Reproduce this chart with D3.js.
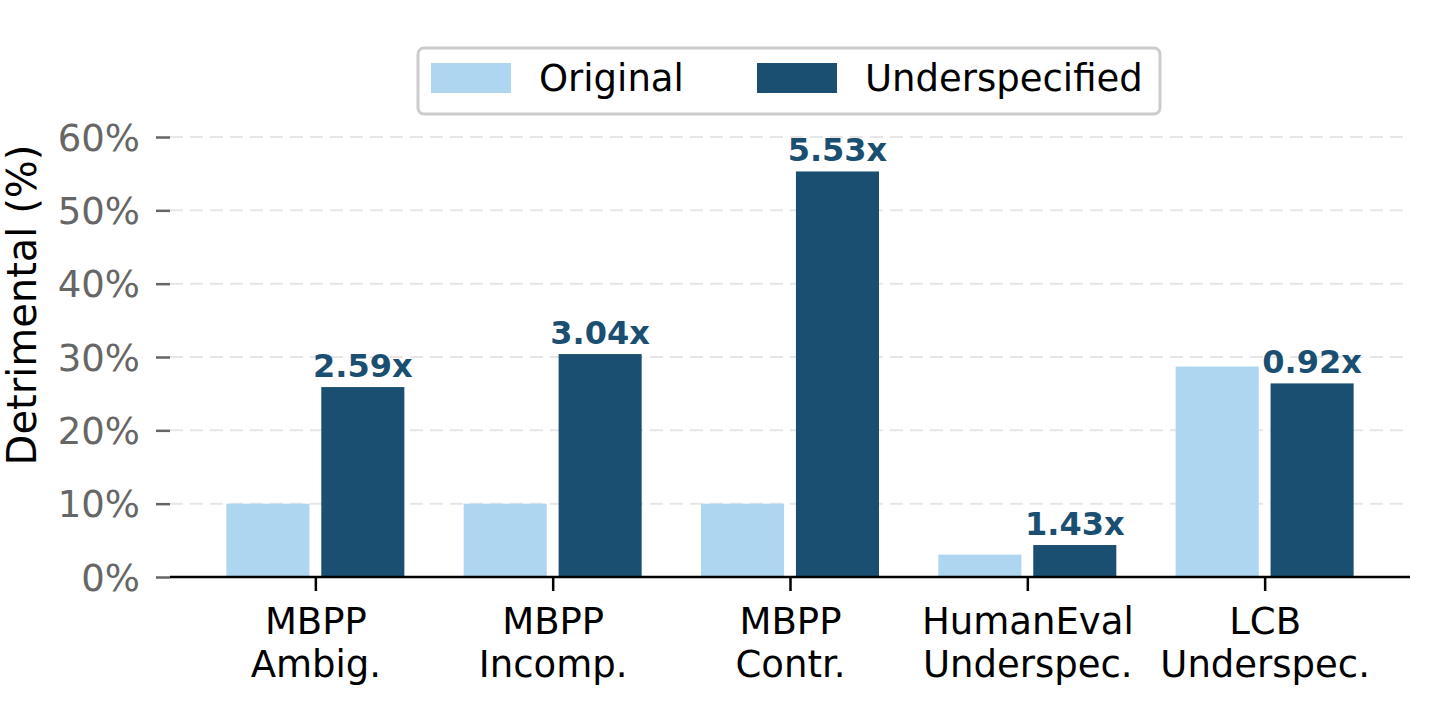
<!DOCTYPE html>
<html>
<head>
<meta charset="utf-8">
<script src="https://cdn.jsdelivr.net/npm/d3@7"></script>
<style>
  html, body { margin: 0; padding: 0; background: #fff; }
  svg { display: block; font-family: "DejaVu Sans", sans-serif; }
</style>
</head>
<body>
<svg id="chart" width="1438" height="714"></svg>
<script>
const categories = [["MBPP", "Ambig."], ["MBPP", "Incomp."], ["MBPP", "Contr."], ["HumanEval", "Underspec."], ["LCB", "Underspec."]];
const originalValues = [10.0, 10.0, 10.0, 3.05, 28.7];
const underspecifiedValues = [25.9, 30.4, 55.3, 4.36, 26.4];
const ratioLabels = ["2.59x", "3.04x", "5.53x", "1.43x", "0.92x"];
const yTicks = [0, 10, 20, 30, 40, 50, 60];
const seriesNames = ["Original", "Underspecified"];
const colors = ["#aed6f1", "#1b4f72"];

const svg = d3.select("#chart");
const x = d3.scaleLinear().domain([-0.6125, 4.6125]).range([170, 1410]);
const y = d3.scaleLinear().domain([0, 60]).range([577, 137]);
const barW = x(0.35) - x(0);

// gridlines
svg.append("g").selectAll("line").data(yTicks.filter(t => t > 0)).join("line")
  .attr("x1", x.range()[0]).attr("x2", x.range()[1])
  .attr("y1", d => y(d)).attr("y2", d => y(d))
  .attr("stroke", "#e6e6e6").attr("stroke-width", 2).attr("stroke-dasharray", "13,7");

// y axis
const yAxis = d3.axisLeft(y).tickValues(yTicks).tickFormat(d => d + "%").tickSize(14).tickPadding(16);
const gy = svg.append("g").attr("transform", `translate(${x.range()[0]},0)`).call(yAxis);
gy.select(".domain").remove();
gy.selectAll(".tick line").attr("stroke", "#666").attr("stroke-width", 2.5);
gy.selectAll(".tick text").attr("fill", "#666").attr("font-size", 37).attr("font-family", "DejaVu Sans").attr("dy", "0.36em");

// bars
const data = categories.map((c, i) => ({ i, o: originalValues[i], u: underspecifiedValues[i], r: ratioLabels[i] }));
svg.append("g").selectAll("rect").data(data).join("rect")
  .attr("x", d => x(d.i - 0.2) - barW / 2).attr("width", barW)
  .attr("y", d => y(d.o)).attr("height", d => y(0) - y(d.o))
  .attr("fill", colors[0]);
svg.append("g").selectAll("rect").data(data).join("rect")
  .attr("x", d => x(d.i + 0.2) - barW / 2).attr("width", barW)
  .attr("y", d => y(d.u)).attr("height", d => y(0) - y(d.u))
  .attr("fill", colors[1]);

// ratio labels
svg.append("g").selectAll("text").data(data).join("text")
  .attr("x", d => x(d.i + 0.2)).attr("y", d => y(d.u) - 10)
  .attr("text-anchor", "middle").attr("font-size", 32).attr("font-weight", "bold")
  .attr("fill", colors[1]).text(d => d.r);

// x axis
const xAxis = d3.axisBottom(x).tickValues(d3.range(categories.length)).tickSize(14).tickFormat("");
const gx = svg.append("g").attr("transform", `translate(0,${y(0)})`).call(xAxis);
gx.select(".domain").attr("stroke", "#000").attr("stroke-width", 2.5).attr("d", `M${x.range()[0]},0H${x.range()[1]}`);
gx.selectAll(".tick line").attr("stroke", "#000").attr("stroke-width", 2.5);
gx.selectAll(".tick").each(function(d) {
  const t = d3.select(this).append("text").attr("fill", "#000").attr("font-size", 37)
    .attr("text-anchor", "middle").attr("font-family", "DejaVu Sans");
  categories[d].forEach((line, k) => {
    t.append("tspan").attr("x", 0).attr("y", 57 + k * 43).text(line);
  });
});

// y label
svg.append("text").attr("transform", "translate(36,305) rotate(-90)")
  .attr("text-anchor", "middle").attr("font-size", 40).attr("fill", "#000").text("Detrimental (%)");

// legend
const lg = svg.append("g");
lg.append("rect").attr("x", 418).attr("y", 48).attr("width", 742).attr("height", 66)
  .attr("rx", 6).attr("fill", "#fff").attr("stroke", "#cccccc").attr("stroke-width", 3);
const legendX = [431, 757];
seriesNames.forEach((name, k) => {
  lg.append("rect").attr("x", legendX[k]).attr("y", 63).attr("width", 80).attr("height", 30).attr("fill", colors[k]);
  lg.append("text").attr("x", legendX[k] + 108).attr("y", 91).attr("font-size", 37).attr("fill", "#000").text(name);
});
</script>
</body>
</html>
